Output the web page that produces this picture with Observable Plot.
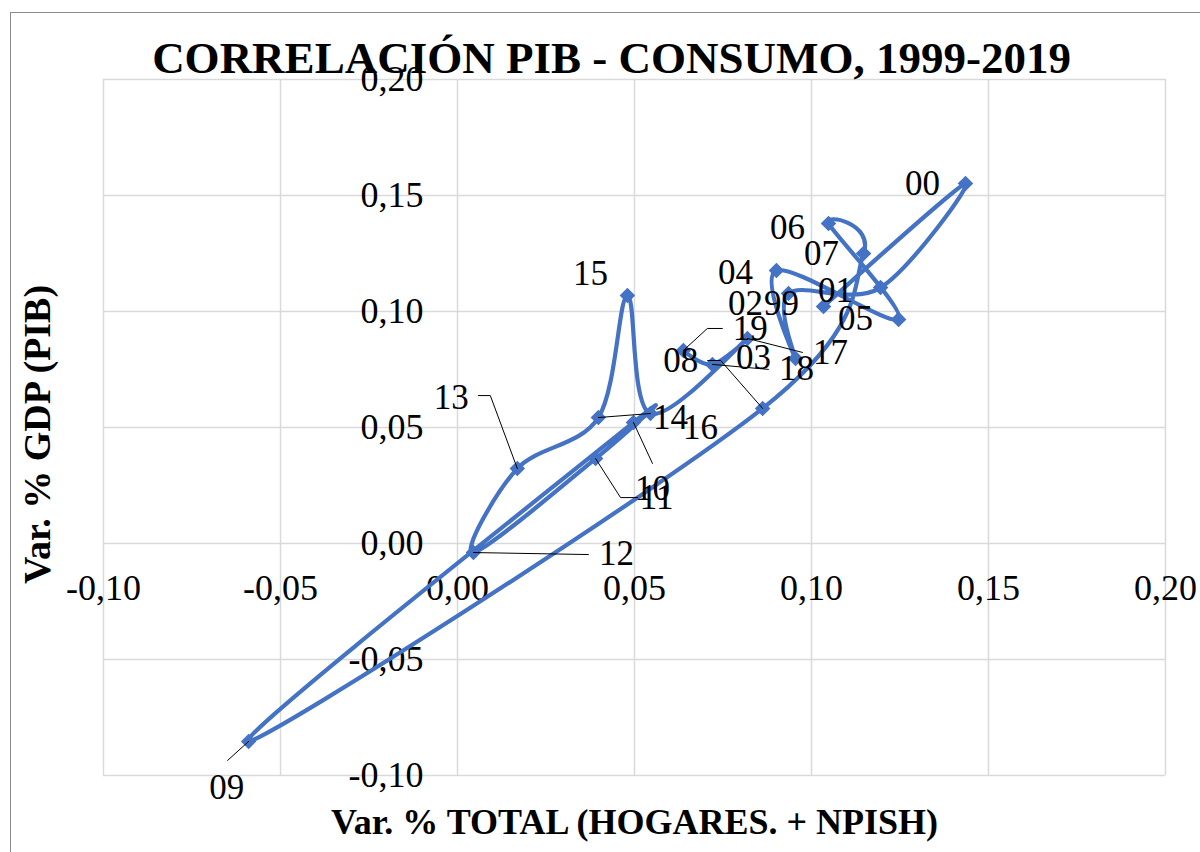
<!DOCTYPE html>
<html><head><meta charset="utf-8">
<script src="https://cdn.jsdelivr.net/npm/d3@7"></script>
<script src="https://cdn.jsdelivr.net/npm/@observablehq/plot@0.6"></script>
<style>
html,body{margin:0;padding:0;background:#fff;overflow:hidden}
#wrap{position:relative;width:1200px;height:852px;overflow:hidden;background:#fff}
#border{position:absolute;left:10px;top:12px;width:1400px;height:1000px;border:1px solid #8a8a8a;box-sizing:border-box}
#chart{position:absolute;left:0;top:0}
</style></head><body>
<div id="wrap"><div id="border"></div><div id="chart"></div></div>
<script>
// ---- data ----
const years   = ["99","00","01","02","03","04","05","06","07","08","09","10","11","12","13","14","15","16","17","18","19"];
const consumo = [0.1034,0.1435,0.1195,0.0935,0.0955,0.0901,0.1246,0.1048,0.1147,0.0862,-0.0590,0.0497,0.0390,0.0045,0.0169,0.0398,0.0480,0.0545,0.0819,0.0720,0.0638];
const pib     = [0.1022,0.1552,0.1103,0.1078,0.0797,0.1177,0.0966,0.1379,0.1250,0.0582,-0.0853,0.0522,0.0366,-0.0039,0.0323,0.0543,0.1069,0.0560,0.0884,0.0772,0.0832];
const xTicks = [-0.10,-0.05,0.00,0.05,0.10,0.15,0.20];
const xTickLabels = ["-0,10","-0,05","0,00","0,05","0,10","0,15","0,20"];
const yTicks = [-0.10,-0.05,0.00,0.05,0.10,0.15,0.20];
const yTickLabels = ["-0,10","-0,05","0,00","0,05","0,10","0,15","0,20"];
const title = "CORRELACIÓN PIB - CONSUMO, 1999-2019";
const xTitle = "Var. % TOTAL (HOGARES. + NPISH)";
const yTitle = "Var. % GDP (PIB)";

// ---- layout (pixel offsets of the data labels and their leader lines) ----
const labelOffsets = {
  "99":[-42,-3],"00":[-43,0],"01":[-45,3],"02":[-43,10],"03":[-42,-1],"04":[-41,2],"05":[-43,-1],
  "06":[-41,4],"07":[-42,0],"08":[-82,-48],"09":[-22,46],"10":[19,66],"11":[61,39],"12":[143,1],
  "13":[-66,-71],"14":[72,0],"15":[-37,-22],"16":[50,14],"17":[83,14],"18":[84,4],"19":[67,-22]
};
const leaders = {
  "08":[[0,0],[-42,-48],[-55,-48]],
  "09":[[0,0],[-21,19]],
  "10":[[0,0],[19,41]],
  "11":[[0,0],[25,39],[42,39]],
  "12":[[0,0],[115,2]],
  "13":[[0,0],[-27,-73],[-39,-73]],
  "14":[[0,0],[52,-4]],
  "17":[[0,0],[55,14]],
  "18":[[0,0],[56,5]],
  "19":[[0,0],[24,-22],[39,-22]]
};

const W = 1200, H = 852, mL = 103, mR = 35, mT = 79, mB = 77;
const xDom = [-0.10, 0.20], yDom = [-0.10, 0.20];
const kx = (xDom[1]-xDom[0]) / (W - mL - mR);
const ky = (yDom[1]-yDom[0]) / (H - mT - mB);

const data = years.map((y,i) => ({year:y, x:consumo[i], y:pib[i]}));
const labels = data.map(d => ({
  year:d.year,
  x: d.x + labelOffsets[d.year][0]*kx,
  y: d.y - labelOffsets[d.year][1]*ky
}));
const leaderPts = [];
for (const d of data) {
  const L = leaders[d.year]; if (!L) continue;
  for (const [dx,dy] of L) leaderPts.push({id:d.year, x:d.x + dx*kx, y:d.y - dy*ky});
}

const serif = "'Liberation Serif','Times New Roman',serif";
const blue = "#4472C4";
const grid = "#d9d9d9";

const chart = Plot.plot({
  width: W, height: H,
  marginLeft: mL, marginRight: mR, marginTop: mT, marginBottom: mB,
  style: {fontFamily: serif, background: "transparent", overflow: "visible"},
  x: {domain: xDom, axis: null},
  y: {domain: yDom, axis: null},
  marks: [
    Plot.gridX(xTicks, {stroke: grid, strokeOpacity: 1, strokeWidth: 1.5}),
    Plot.gridY(yTicks, {stroke: grid, strokeOpacity: 1, strokeWidth: 1.5}),
    Plot.text(xTicks, {x: d => d, y: () => 0, text: (d,i) => xTickLabels[i], dy: 45, fontSize: 36, fontFamily: serif}),
    Plot.text(yTicks, {x: () => 0, y: d => d, text: (d,i) => yTickLabels[i], dx: -34, textAnchor: "end", fontSize: 36, fontFamily: serif}),
    Plot.line(data, {x: "x", y: "y", curve: "cardinal", stroke: blue, strokeWidth: 4.2}),
    Plot.dot(data, {x: "x", y: "y", symbol: "diamond2", r: 7, fill: blue, stroke: "none"}),
    Plot.line(leaderPts, {x: "x", y: "y", z: "id", stroke: "black", strokeWidth: 1}),
    Plot.text(labels, {x: "x", y: "y", text: "year", fontSize: 35, fontFamily: serif, fill: "black"}),
    Plot.text([title], {frameAnchor: "top", lineAnchor: "middle", textAnchor: "middle", dx: -23, dy: -21, fontSize: 45, fontWeight: "bold", fontFamily: serif}),
    Plot.text([xTitle], {frameAnchor: "bottom", lineAnchor: "middle", textAnchor: "middle", dy: 47, fontSize: 36, fontWeight: "bold", fontFamily: serif}),
    Plot.text([yTitle], {frameAnchor: "left", lineAnchor: "middle", textAnchor: "middle", rotate: -90, dx: -66, dy: 7, fontSize: 38, fontWeight: "bold", fontFamily: serif})
  ]
});
document.getElementById("chart").appendChild(chart);
</script>
</body></html>
